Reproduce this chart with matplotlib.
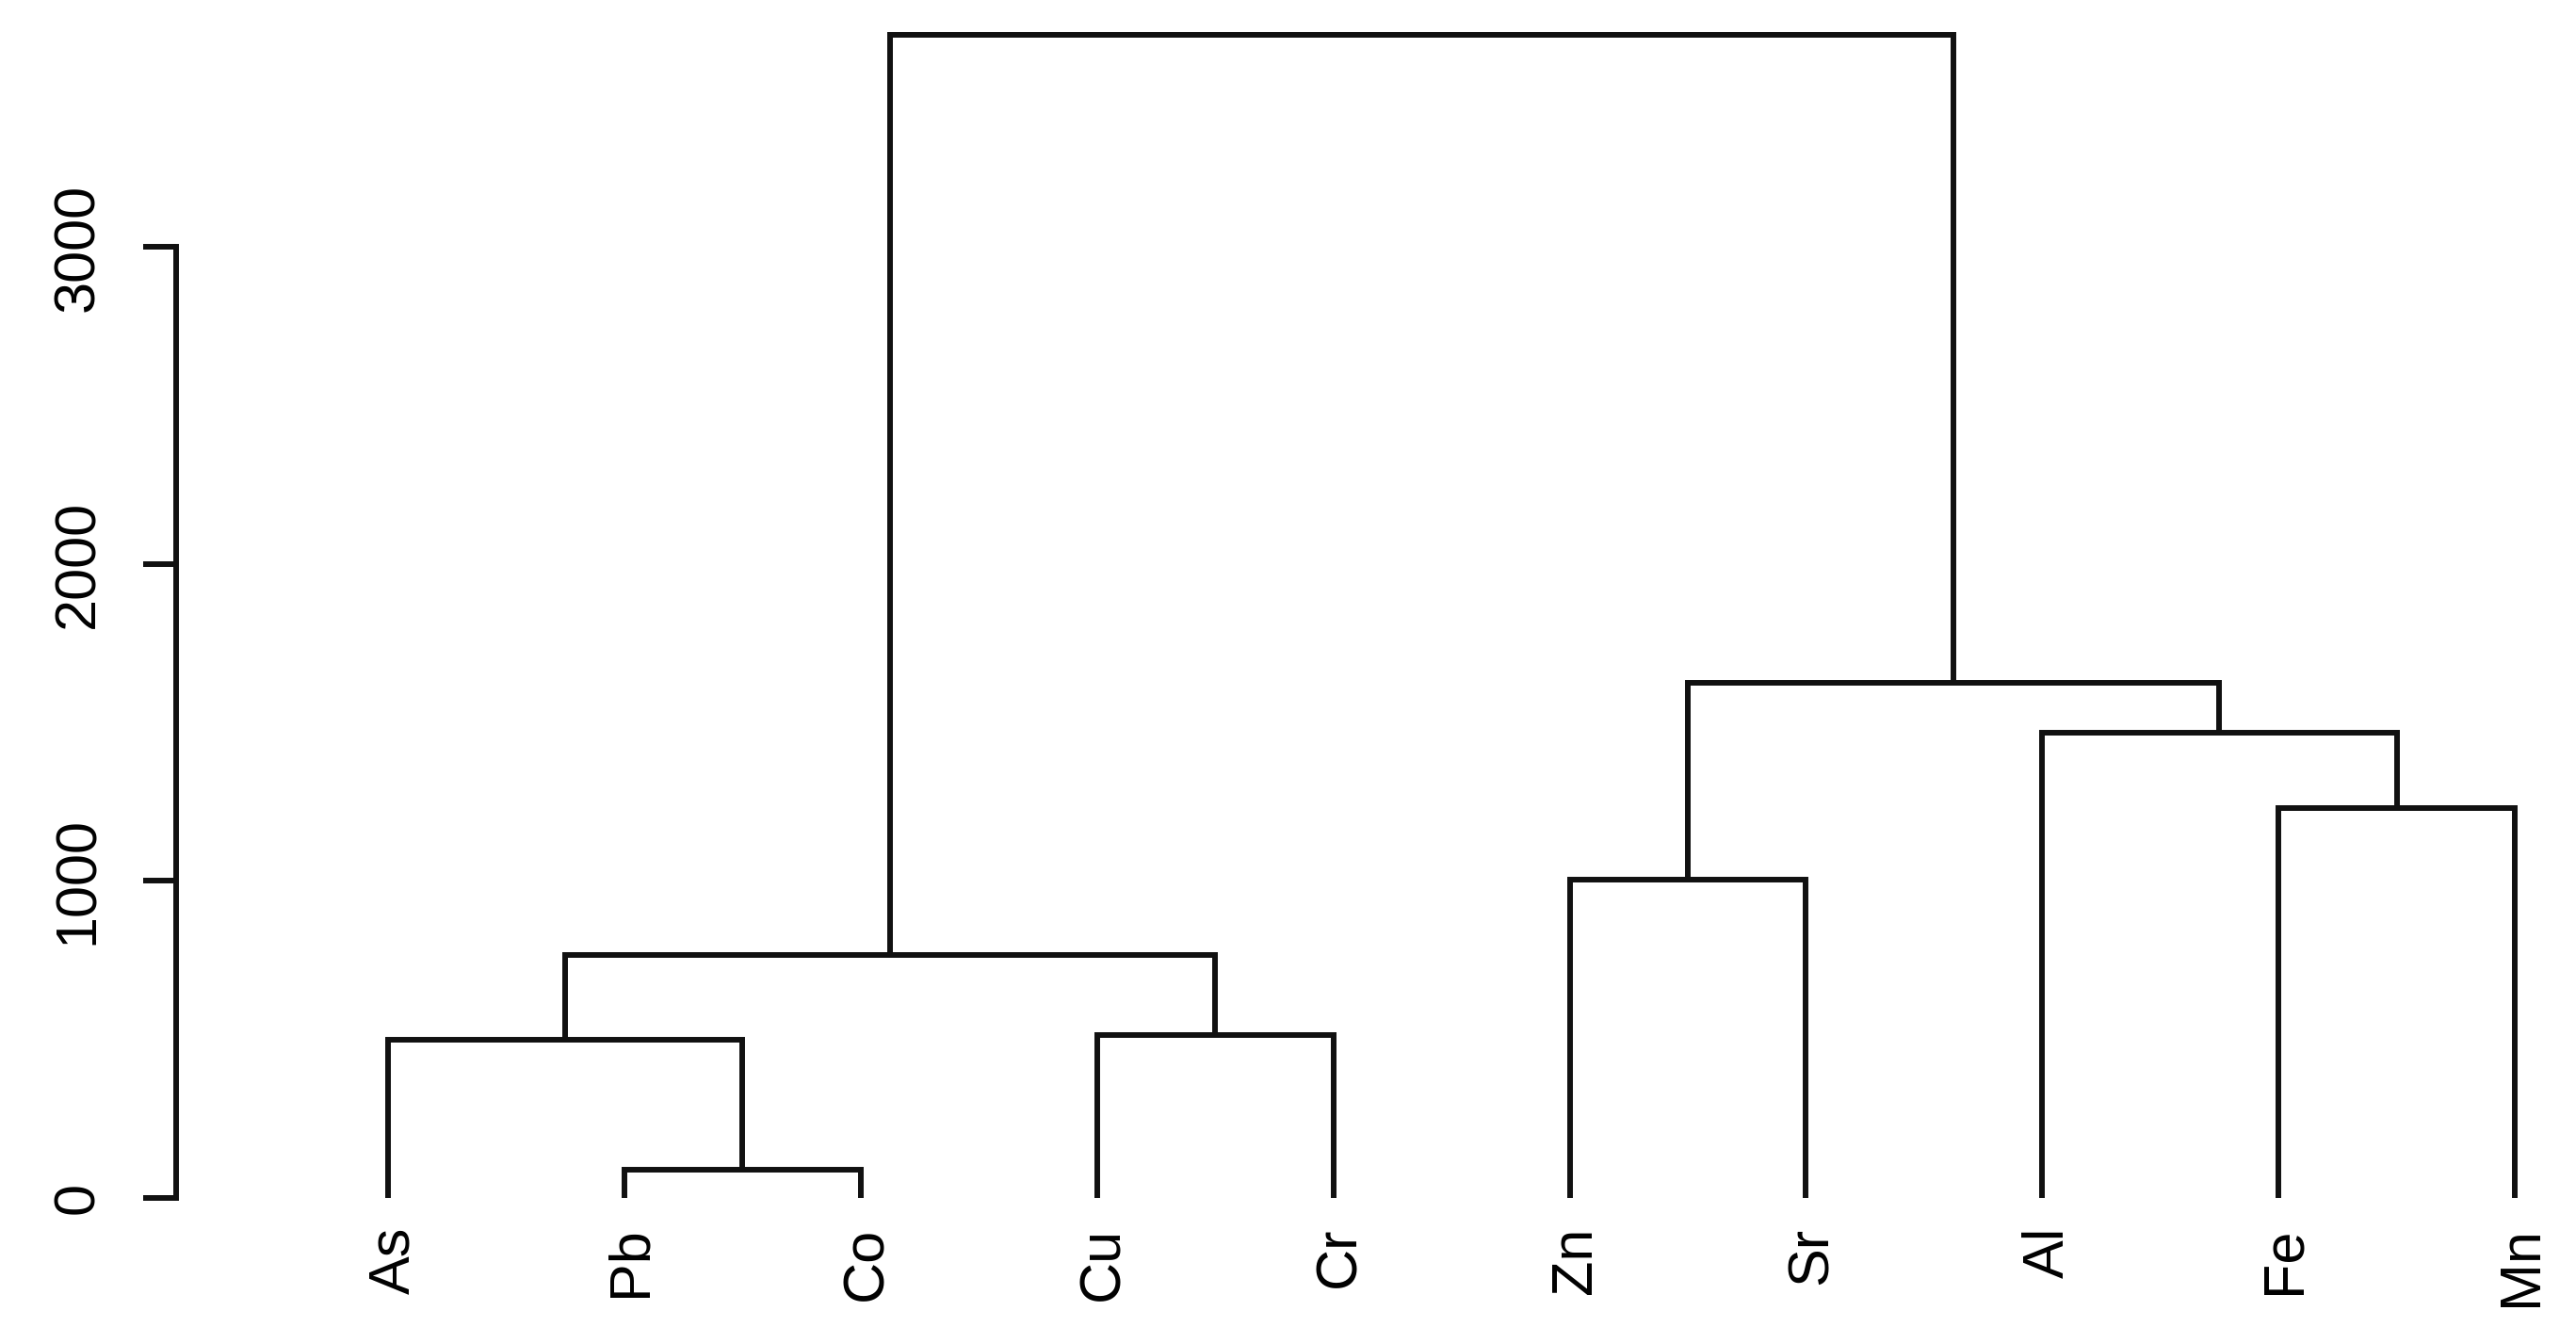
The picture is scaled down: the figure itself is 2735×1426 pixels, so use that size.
import matplotlib
matplotlib.use('Agg')
import matplotlib.pyplot as plt
import matplotlib.transforms as mtransforms

# leaves in plotting order
labels = ['As', 'Pb', 'Co', 'Cu', 'Cr', 'Zn', 'Sr', 'Al', 'Fe', 'Mn']
# hclust-style merge table: negative = leaf (1-based), positive = earlier merge step
merge_a = [-2, -1, -4, 2, -6, -9, -8, 5, 4]
merge_b = [-3, 1, -5, 3, -7, -10, 6, 7, 8]
heights = [89, 500, 515, 768, 1003, 1229, 1467, 1625, 3670]
yticks = [0, 1000, 2000, 3000]

W, H = 2735, 1426
fig = plt.figure(figsize=(W / 100, H / 100), dpi=100)
plt.rcParams['font.family'] = ['Liberation Sans', 'DejaVu Sans']

y0_px, ytop_px = 1272, 37
ax = fig.add_axes([187 / W, (H - y0_px) / H, (W - 187) / W, (y0_px - ytop_px) / H])

lw = 4.3
centers = {}


def node(k):
    if k < 0:
        return -k, 0.0
    return centers[k], heights[k - 1]


for i, (a, b) in enumerate(zip(merge_a, merge_b), start=1):
    xa, ya = node(a)
    xb, yb = node(b)
    h = heights[i - 1]
    ax.plot([xa, xa, xb, xb], [ya, h, h, yb], color='#111111', lw=lw,
            solid_joinstyle='miter', solid_capstyle='butt', clip_on=False)
    centers[i] = (xa + xb) / 2

spacing = 250.9
ax.set_xlim(1 - (412 - 187) / spacing, 1 + (W - 412) / spacing)
ax.set_ylim(0, heights[-1])

for s in ['top', 'right', 'bottom']:
    ax.spines[s].set_visible(False)
ax.spines['left'].set_bounds(yticks[0], yticks[-1])
ax.spines['left'].set_linewidth(lw)
ax.spines['left'].set_color('#111111')

ax.set_yticks(yticks)
ax.set_yticklabels([str(t) for t in yticks], rotation=90, va='center', fontsize=44)
ax.tick_params(axis='y', length=25, width=lw, color='#111111', pad=29)

ax.set_xticks(range(1, len(labels) + 1))
ax.set_xticklabels(labels, rotation=90, va='top', ha='center', fontsize=44)
ax.tick_params(axis='x', length=0, pad=22)
# R puts the rotated leaf labels a touch to the right of the stem
shift = mtransforms.ScaledTranslation(0.07, 0, fig.dpi_scale_trans)
for t in ax.get_xticklabels():
    t.set_transform(t.get_transform() + shift)

fig.savefig('out.png', dpi=100, facecolor='white')
